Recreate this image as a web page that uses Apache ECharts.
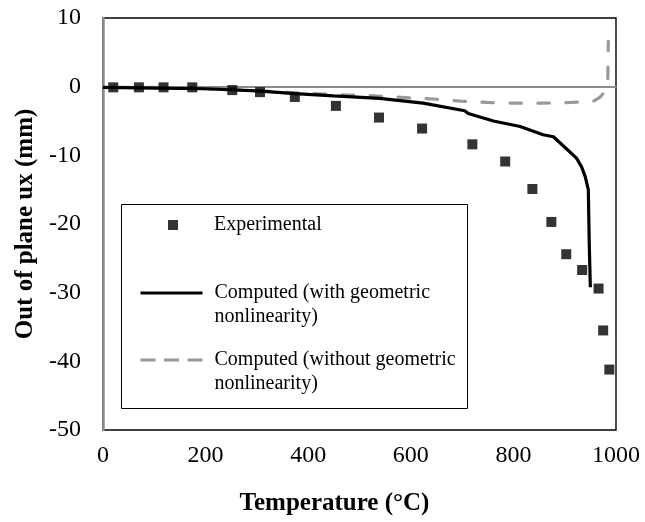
<!DOCTYPE html>
<html>
<head>
<meta charset="utf-8">
<script src="https://cdn.jsdelivr.net/npm/echarts@6/dist/echarts.min.js"></script>
<style>
  html, body { margin: 0; padding: 0; background: #fff; }
  #chart { width: 645px; height: 522px; }
</style>
</head>
<body>
<div id="chart"></div>
<script>
// Measured out-of-plane displacement (mm) against temperature (°C)
const expTemp = [20, 70, 118, 174, 252, 306, 374, 454, 538, 622, 720, 784, 837, 874, 903, 934, 966, 975, 987];
const expUx   = [-0.1, -0.1, -0.1, -0.1, -0.5, -0.8, -1.5, -2.8, -4.5, -6.1, -8.4, -10.9, -14.9, -19.7, -24.4, -26.7, -29.4, -35.5, -41.2];

// Model with geometric nonlinearity
const nlTemp = [0, 100, 200, 300, 374, 450, 539, 624, 705, 712, 761, 813, 858, 878, 897, 923, 933, 940, 946, 948, 950];
const nlUx   = [-0.1, -0.2, -0.3, -0.6, -1.0, -1.35, -1.7, -2.4, -3.5, -3.9, -5.0, -5.8, -7.0, -7.3, -8.6, -10.4, -11.7, -13.1, -15.0, -23.3, -29.2];

// Model without geometric nonlinearity
const linTemp = [0, 100, 200, 300, 406, 471, 523, 566, 643, 696, 748, 800, 858, 914, 956, 968, 976, 981, 984, 985];
const linUx   = [-0.1, -0.1, -0.3, -0.6, -1.0, -1.2, -1.3, -1.5, -1.8, -2.1, -2.3, -2.4, -2.4, -2.3, -2.1, -1.6, -0.9, -0.3, 1.0, 6.6];

const xTicks = { min: 0, max: 1000, interval: 200 };
const yTicks = { min: -50, max: 10, interval: 10 };

const seriesNames = [
  'Experimental',
  'Computed (with geometric nonlinearity)',
  'Computed (without geometric nonlinearity)'
];

const zip = (a, b) => a.map((v, i) => [v, b[i]]);

const FONT = '"Liberation Serif", "Times New Roman", serif';
const LEG_LH = 23.4;
const legendText = (padLeft) => ({
  fontFamily: FONT, fontSize: 20, color: '#000', lineHeight: LEG_LH,
  padding: [0, 0, 0, padLeft]
});

const chart = echarts.init(document.getElementById('chart'), null, { renderer: 'canvas' });

chart.setOption({
  animation: false,
  backgroundColor: '#fff',
  grid: {
    left: 103, right: 29, top: 18, height: 412,
    show: true, borderColor: '#000', borderWidth: 1.4, backgroundColor: 'transparent'
  },
  xAxis: [
    {
      type: 'value', min: xTicks.min, max: xTicks.max, interval: xTicks.interval,
      position: 'bottom',
      name: 'Temperature (°C)', nameLocation: 'middle', nameGap: 61,
      nameTextStyle: {
        fontFamily: FONT, fontSize: 25, fontWeight: 'bold', color: '#000',
        padding: [0, 50, 0, 0]
      },
      axisLine: { show: false, onZero: false },
      axisTick: { show: false },
      splitLine: { show: false },
      axisLabel: {
        fontFamily: FONT, fontSize: 24, color: '#000', margin: 14,
        formatter: (v) => String(v)
      }
    },
    {
      // horizontal axis line crossing at ux = 0
      type: 'value', min: xTicks.min, max: xTicks.max, interval: xTicks.interval,
      position: 'top',
      axisLine: { show: true, onZero: true, lineStyle: { color: '#8c8c8c', width: 1.8 } },
      axisTick: { show: false },
      axisLabel: { show: false },
      splitLine: { show: false }
    }
  ],
  yAxis: {
    type: 'value', min: yTicks.min, max: yTicks.max, interval: yTicks.interval,
    name: 'Out of plane ux (mm)', nameLocation: 'middle', nameGap: 63,
    nameTextStyle: { fontFamily: FONT, fontSize: 25, fontWeight: 'bold', color: '#000' },
    axisLine: { show: true, onZero: false, lineStyle: { color: '#8c8c8c', width: 2.5 } },
    axisTick: { show: false },
    splitLine: { show: false },
    axisLabel: { fontFamily: FONT, fontSize: 24, color: '#000', margin: 22 }
  },
  legend: [
    {
      data: [seriesNames[0]], selectedMode: false,
      left: 168, top: 225 - LEG_LH / 2, padding: 0,
      itemWidth: 10, itemHeight: 10, itemGap: 0,
      textStyle: legendText(31),
      formatter: () => 'Experimental'
    },
    {
      data: [seriesNames[1]], selectedMode: false,
      left: 139, top: 293 - LEG_LH * 1.5, padding: 0,
      itemWidth: 62, itemHeight: 4, itemGap: 0,
      itemStyle: { opacity: 0 },
      lineStyle: { width: 3 },
      textStyle: legendText(7),
      formatter: () => '\nComputed (with geometric\nnonlinearity)'
    },
    {
      data: [seriesNames[2]], selectedMode: false,
      left: 139, top: 360 - LEG_LH * 1.5, padding: 0,
      itemWidth: 62, itemHeight: 4, itemGap: 0,
      itemStyle: { opacity: 0 },
      lineStyle: { width: 3, type: [15, 8.5], dashOffset: 0, cap: 'butt' },
      textStyle: legendText(7),
      formatter: () => '\nComputed (without geometric\nnonlinearity)'
    }
  ],
  graphic: [
    {
      type: 'rect', left: 119, top: 202, silent: true,
      shape: { width: 346, height: 204 },
      style: { fill: 'none', stroke: '#000', lineWidth: 1 }
    }
  ],
  series: [
    {
      name: seriesNames[0], type: 'scatter',
      data: zip(expTemp, expUx),
      symbol: 'rect', symbolSize: 10,
      itemStyle: { color: '#000' },
      z: 5
    },
    {
      name: seriesNames[1], type: 'line',
      data: zip(nlTemp, nlUx),
      symbol: 'none', smooth: false,
      lineStyle: { color: '#000', width: 3.2 },
      itemStyle: { color: '#000' },
      z: 4
    },
    {
      name: seriesNames[2], type: 'line',
      data: zip(linTemp, linUx),
      symbol: 'none', smooth: false,
      lineStyle: { color: '#999', width: 3.2, type: [11.5, 16.5], dashOffset: 12.7, cap: 'round' },
      itemStyle: { color: '#999' },
      z: 3
    }
  ]
});
</script>
</body>
</html>
